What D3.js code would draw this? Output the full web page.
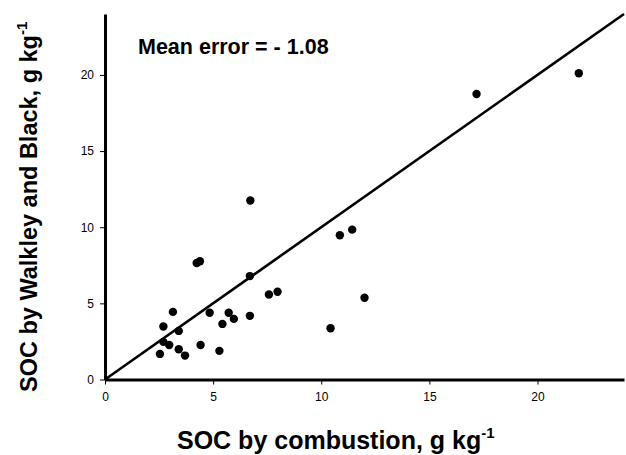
<!DOCTYPE html>
<html>
<head>
<meta charset="utf-8">
<script src="https://cdn.jsdelivr.net/npm/d3@7"></script>
<style>
  body { margin: 0; background: #fff; }
  svg { font-family: "Liberation Sans", Arial, sans-serif; }
</style>
</head>
<body>
<svg id="chart" width="626" height="455"></svg>
<script>
// SOC by combustion (x) vs SOC by Walkley and Black (y), g kg-1
const combustion = [3.14, 2.70, 3.41, 2.70, 2.97, 2.54, 3.41, 3.70, 4.42, 4.84, 5.29, 5.43, 5.72, 5.96, 6.70,
                    6.72, 4.24, 4.39, 6.70, 7.58, 7.98, 10.43, 10.86, 11.43, 12.00, 17.18, 21.91]
const walkley    = [4.44, 3.48, 3.19, 2.47, 2.27, 1.68, 1.99, 1.57, 2.27, 4.38, 1.88, 3.65, 4.38, 3.98, 4.18,
                    11.75, 7.65, 7.76, 6.79, 5.58, 5.76, 3.37, 9.47, 9.84, 5.37, 18.75, 20.11]
const tickValues = [0, 5, 10, 15, 20]
const axisMax = 24
const meanError = "Mean error = - 1.08"

const svg = d3.select("#chart")
const plotLeft = 105, plotRight = 624, plotTop = 14, plotBottom = 379.5

const x = d3.scaleLinear().domain([0, axisMax]).range([plotLeft, plotRight])
const y = d3.scaleLinear().domain([0, axisMax]).range([plotBottom, plotTop])

// 1:1 line
svg.append("line")
    .attr("x1", x(0)).attr("y1", y(0))
    .attr("x2", x(axisMax)).attr("y2", y(axisMax))
    .attr("stroke", "#000")
    .attr("stroke-width", 2.6)

const points = combustion.map((v, i) => ({x: v, y: walkley[i]}))
svg.selectAll("circle.pt")
    .data(points)
    .join("circle")
    .attr("class", "pt")
    .attr("cx", d => x(d.x))
    .attr("cy", d => y(d.y))
    .attr("r", 4.2)
    .attr("fill", "#000")

// axes
const xAxis = svg.append("g")
    .attr("transform", `translate(0,${plotBottom})`)
    .call(d3.axisBottom(x).tickValues(tickValues).tickSize(5).tickSizeOuter(0).tickPadding(8))
const yAxis = svg.append("g")
    .attr("transform", `translate(${plotLeft},0)`)
    .call(d3.axisLeft(y).tickValues(tickValues).tickSize(5).tickSizeOuter(0).tickPadding(6))

for (const g of [xAxis, yAxis]) {
    g.select(".domain").attr("stroke-width", 3)
    g.selectAll(".tick line").attr("stroke-width", 1)
    g.selectAll(".tick text")
        .attr("font-size", 12)
        .attr("font-family", "Liberation Sans, Arial, sans-serif")
        .attr("fill", "#000")
}

// annotation
svg.append("text")
    .attr("x", 138).attr("y", 54)
    .attr("font-size", 21.5)
    .attr("font-weight", "bold")
    .text(meanError)

// axis titles
const xt = svg.append("text")
    .attr("x", 177).attr("y", 449)
    .attr("font-size", 25)
    .attr("font-weight", "bold")
xt.append("tspan").text("SOC by combustion, g kg")
xt.append("tspan").attr("font-size", 15).attr("dy", -11).text("-1")

const yt = svg.append("text")
    .attr("transform", "translate(37,392) rotate(-90)")
    .attr("font-size", 23.5)
    .attr("font-weight", "bold")
yt.append("tspan").text("SOC by Walkley and Black, g kg")
yt.append("tspan").attr("font-size", 15).attr("dy", -10).text("-1")
</script>
</body>
</html>
